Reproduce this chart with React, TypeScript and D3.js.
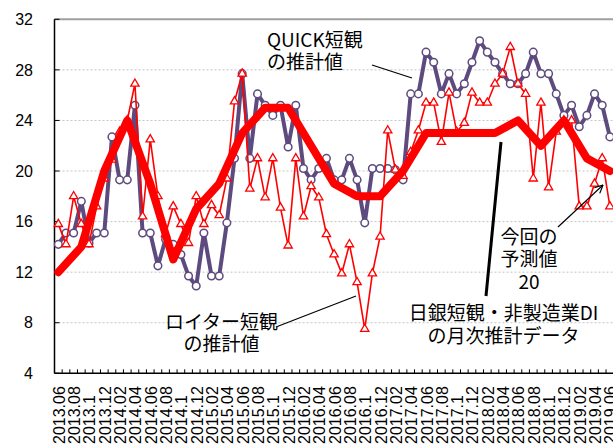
import { useEffect, useRef } from "react";
import * as d3 from "d3";

// months on the category axis (Excel shows 2013.10 as 2013.1)
const months = [
  "2013.06", "2013.07", "2013.08", "2013.09", "2013.1", "2013.11", "2013.12",
  "2014.01", "2014.02", "2014.03", "2014.04", "2014.05", "2014.06", "2014.07", "2014.08", "2014.09", "2014.1", "2014.11", "2014.12",
  "2015.01", "2015.02", "2015.03", "2015.04", "2015.05", "2015.06", "2015.07", "2015.08", "2015.09", "2015.1", "2015.11", "2015.12",
  "2016.01", "2016.02", "2016.03", "2016.04", "2016.05", "2016.06", "2016.07", "2016.08", "2016.09", "2016.1", "2016.11", "2016.12",
  "2017.01", "2017.02", "2017.03", "2017.04", "2017.05", "2017.06", "2017.07", "2017.08", "2017.09", "2017.1", "2017.11", "2017.12",
  "2018.01", "2018.02", "2018.03", "2018.04", "2018.05", "2018.06", "2018.07", "2018.08", "2018.09", "2018.1", "2018.11", "2018.12",
  "2019.01", "2019.02", "2019.03", "2019.04", "2019.05", "2019.06",
];

const xTickLabels = [
  "2013.06", "2013.08", "2013.1", "2013.12", "2014.02", "2014.04", "2014.06", "2014.08", "2014.1", "2014.12",
  "2015.02", "2015.04", "2015.06", "2015.08", "2015.1", "2015.12", "2016.02", "2016.04", "2016.06", "2016.08",
  "2016.1", "2016.12", "2017.02", "2017.04", "2017.06", "2017.08", "2017.1", "2017.12", "2018.02", "2018.04",
  "2018.06", "2018.08", "2018.1", "2018.12", "2019.02", "2019.04", "2019.06",
];

const yTicks = [4, 8, 12, 16, 20, 24, 28, 32];

// QUICK短観の推計値 (monthly)
const quickValues = [
  14.2, 15.1, 15.1, 17.6, 14.3, 15.1, 15.1,
  22.7, 19.3, 19.3, 25.2, 15.1, 15.1, 12.5, 14.6, 14.2, 13.4, 11.7, 10.9,
  15.1, 11.7, 11.7, 15.9, 21.0, 27.7, 21.0, 26.1, 25.2, 24.4, 25.2, 21.9,
  25.2, 20.2, 19.3, 20.2, 21.0, 19.3, 19.3, 21.0, 19.3, 15.9, 20.2, 20.2,
  20.2, 20.1, 19.3, 26.1, 26.1, 29.4, 28.6, 26.1, 27.7, 26.1, 26.9, 28.6,
  30.3, 29.4, 28.6, 27.7, 26.9, 26.9, 27.7, 29.4, 27.7, 27.7, 26.1, 24.4,
  25.2, 23.5, 24.4, 26.1, 25.2, 22.7,
];

// ロイター短観の推計値 (monthly)
const reutersValues = [
  15.8, 14.2, 18.0, 15.8, 14.2, 17.2, 19.4,
  20.9, 23.1, 24.0, 26.9, 16.4, 22.5, 18.0, 15.0, 17.2, 15.8, 14.3, 18.0,
  15.8, 17.3, 16.5, 19.4, 25.5, 27.7, 18.6, 21.0, 17.9, 21.0, 17.1, 14.1,
  21.0, 16.4, 18.8, 17.9, 15.0, 13.4, 11.9, 14.2, 11.2, 7.5, 11.9, 14.8,
  23.2, 20.1, 19.6, 21.5, 23.2, 25.4, 25.4, 22.3, 26.2, 23.1, 23.8, 26.2,
  25.4, 25.4, 26.9, 27.7, 29.8, 26.9, 26.1, 19.4, 25.4, 18.7, 23.1, 24.0,
  24.0, 17.2, 17.2, 19.0, 21.0, 17.2,
];

// 日銀短観・非製造業DI (survey months)
const bojMonths = [
  "2013.06", "2013.09", "2013.12", "2014.03", "2014.06", "2014.09", "2014.12",
  "2015.03", "2015.06", "2015.09", "2015.12", "2016.03", "2016.06", "2016.09", "2016.12",
  "2017.03", "2017.06", "2017.09", "2017.12", "2018.03", "2018.06", "2018.09", "2018.12",
  "2019.03", "2019.06",
];
const bojValues = [12, 14, 20, 24, 19, 13, 17, 19, 23, 25, 25, 22, 19, 18, 18, 20, 23, 23, 23, 23, 24, 22, 24, 21, 20];

const LATIN = "'Liberation Sans', Arial, sans-serif";
const JP = "'Noto Sans CJK JP', sans-serif";
const PURPLE = "#5d4a7e";
const RED = "#ff0000";

export default function App() {
  const svgRef = useRef<SVGSVGElement | null>(null);

  useEffect(() => {
    const width = 613;
    const height = 446;
    const left = 54.5;
    const right = 613.7;
    const top = 19.3;
    const bottom = 373.3;

    const svg = d3.select(svgRef.current);
    svg.attr("viewBox", `0 0 ${width} ${height}`);
    svg.selectAll("*").remove();

    const x = d3.scaleBand<string>().domain(months).range([left, right]).padding(0);
    const cx = (m: string) => (x(m) as number) + x.bandwidth() / 2;
    const y = d3.scaleLinear().domain([4, 32]).range([bottom, top]);

    svg.append("rect").attr("width", width).attr("height", height).attr("fill", "#fff");

    // gridlines
    svg
      .append("g")
      .selectAll("line")
      .data(yTicks.filter((t) => t > 4 && t < 32))
      .join("line")
      .attr("x1", left)
      .attr("x2", width)
      .attr("y1", (d) => y(d))
      .attr("y2", (d) => y(d))
      .attr("stroke", "#c4c4c4")
      .attr("stroke-width", 1)
      .attr("stroke-dasharray", "2,2");

    // top border
    svg
      .append("line")
      .attr("x1", left)
      .attr("x2", width)
      .attr("y1", y(32))
      .attr("y2", y(32))
      .attr("stroke", "#a0a0a0")
      .attr("stroke-width", 2);

    // left axis
    svg
      .append("line")
      .attr("x1", left)
      .attr("x2", left)
      .attr("y1", y(32))
      .attr("y2", y(4))
      .attr("stroke", "#000")
      .attr("stroke-width", 1.5);
    svg
      .append("g")
      .selectAll("line")
      .data(yTicks)
      .join("line")
      .attr("x1", left)
      .attr("x2", left + 5)
      .attr("y1", (d) => y(d))
      .attr("y2", (d) => y(d))
      .attr("stroke", "#000")
      .attr("stroke-width", 1);
    svg
      .append("g")
      .selectAll("text")
      .data(yTicks)
      .join("text")
      .attr("x", 33)
      .attr("y", (d) => y(d))
      .attr("dy", "0.36em")
      .attr("text-anchor", "end")
      .attr("font-family", LATIN)
      .attr("font-size", 16)
      .attr("fill", "#000")
      .text((d) => d);

    // bottom axis with monthly ticks
    svg
      .append("line")
      .attr("x1", left)
      .attr("x2", width)
      .attr("y1", bottom)
      .attr("y2", bottom)
      .attr("stroke", "#000")
      .attr("stroke-width", 1.5);
    svg
      .append("g")
      .selectAll("line")
      .data(months)
      .join("line")
      .attr("x1", (d) => x(d) as number)
      .attr("x2", (d) => x(d) as number)
      .attr("y1", bottom)
      .attr("y2", bottom - 4)
      .attr("stroke", "#000")
      .attr("stroke-width", 1);
    svg
      .append("g")
      .selectAll("text")
      .data(xTickLabels)
      .join("text")
      .attr("transform", (d) => `translate(${cx(d) + 6.5},444) rotate(-90)`)
      .attr("text-anchor", "start")
      .attr("font-family", LATIN)
      .attr("font-size", 16)
      .attr("fill", "#000")
      .text((d) => d);

    const line = d3
      .line<number>()
      .x((_, i) => cx(months[i]))
      .y((d) => y(d));

    // QUICK
    svg
      .append("path")
      .datum(quickValues)
      .attr("d", line)
      .attr("fill", "none")
      .attr("stroke", PURPLE)
      .attr("stroke-width", 4)
      .attr("stroke-linejoin", "round");
    svg
      .append("g")
      .selectAll("circle")
      .data(quickValues)
      .join("circle")
      .attr("cx", (_, i) => cx(months[i]))
      .attr("cy", (d) => y(d))
      .attr("r", 3.8)
      .attr("fill", "#fff")
      .attr("stroke", PURPLE)
      .attr("stroke-width", 1.5);

    // Reuters
    svg
      .append("path")
      .datum(reutersValues)
      .attr("d", line)
      .attr("fill", "none")
      .attr("stroke", RED)
      .attr("stroke-width", 1.6);
    const tri = d3.symbol().type(d3.symbolTriangle).size(30);
    svg
      .append("g")
      .selectAll("path")
      .data(reutersValues)
      .join("path")
      .attr("transform", (d, i) => `translate(${cx(months[i])},${y(d)})`)
      .attr("d", tri)
      .attr("fill", "#fff")
      .attr("stroke", RED)
      .attr("stroke-width", 1.3);

    // BOJ thick line
    const bojLine = d3
      .line<number>()
      .x((_, i) => cx(bojMonths[i]))
      .y((d) => y(d));
    svg
      .append("path")
      .datum(bojValues)
      .attr("d", bojLine)
      .attr("fill", "none")
      .attr("stroke", RED)
      .attr("stroke-width", 8)
      .attr("stroke-linejoin", "round")
      .attr("stroke-linecap", "round");

    // annotations
    const note = (lines: string[], x0: number, y0: number, anchor: string) => {
      const t = svg
        .append("text")
        .attr("font-family", JP)
        .attr("font-size", 19)
        .attr("fill", "#000")
        .attr("text-anchor", anchor);
      lines.forEach((s, i) => {
        t.append("tspan").attr("x", x0).attr("y", y0 + i * 22.5).text(s);
      });
    };
    const leader = (x1: number, y1: number, x2: number, y2: number, w = 1.2) =>
      svg
        .append("line")
        .attr("x1", x1)
        .attr("y1", y1)
        .attr("x2", x2)
        .attr("y2", y2)
        .attr("stroke", "#000")
        .attr("stroke-width", w);

    note(["QUICK短観", "の推計値"], 267, 46.5, "start");
    leader(372, 65, 412, 78);

    note(["ロイター短観", "の推計値"], 221.5, 328.5, "middle");
    leader(276, 327, 356, 296);

    note(["日銀短観・非製造業DI", "の月次推計データ"], 503.5, 320, "middle");
    leader(501, 142, 486, 296, 3);

    note(["今回の", "予測値", "20"], 529, 243.5, "middle");
    leader(558, 227, 603, 185);
    const ang = Math.atan2(185 - 227, 603 - 558);
    [-0.45, 0.45].forEach((a) => {
      leader(603, 185, 603 - 9 * Math.cos(ang + a), 185 - 9 * Math.sin(ang + a));
    });
  }, []);

  return (
    <svg
      ref={svgRef}
      width={613}
      height={446}
      style={{ position: "absolute", left: 0, top: 0, display: "block" }}
    />
  );
}
